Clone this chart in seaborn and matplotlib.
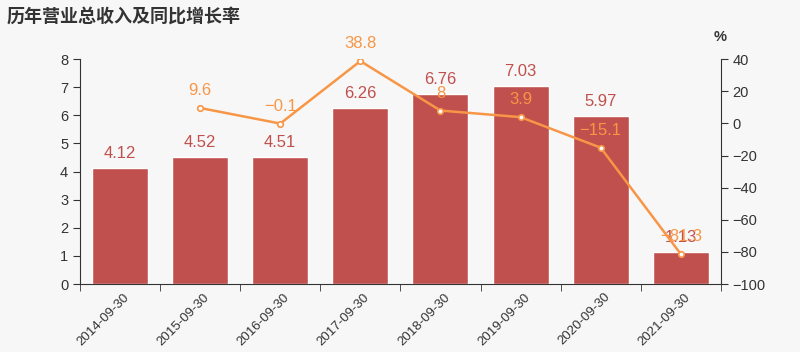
import numpy as np
import pandas as pd
import matplotlib
matplotlib.use("Agg")
import matplotlib.pyplot as plt
import seaborn as sns

dates = ['2014-09-30', '2015-09-30', '2016-09-30', '2017-09-30',
         '2018-09-30', '2019-09-30', '2020-09-30', '2021-09-30']
revenue = [4.12, 4.52, 4.51, 6.26, 6.76, 7.03, 5.97, 1.13]
growth = [9.6, -0.1, 38.8, 8, 3.9, -15.1, -81.3]
growth_labels = ['9.6', '\u22120.1', '38.8', '8', '3.9', '\u221215.1', '\u221281.3']

bar_color = '#c0504d'
line_color = '#f79646'
bg = '#f7f7f7'
txt = '#333333'

sns.set_style("ticks")
plt.rcParams['font.family'] = ['Liberation Sans', 'Noto Sans CJK SC', 'DejaVu Sans']
plt.rcParams['axes.unicode_minus'] = True

fig = plt.figure(figsize=(8, 3.52), dpi=100, facecolor=bg)
ax = fig.add_axes([0.1, 0.193, 0.801, 0.639])
ax.set_facecolor(bg)

df = pd.DataFrame({'date': dates, 'revenue': revenue})
sns.barplot(x='date', y='revenue', data=df, color=bar_color, width=0.7,
            saturation=1, ax=ax)
for p, v in zip(ax.patches, revenue):
    ax.annotate(f'{v:.2f}', (p.get_x() + p.get_width() / 2, p.get_height()),
                xytext=(0, 5), textcoords='offset points', ha='center', va='bottom',
                color=bar_color, fontsize=12)

ax.set_ylim(0, 8)
ax.set_xlim(-0.5, len(dates) - 0.5)
ax.set_yticks(range(0, 9))
ax.set_xlabel('')
ax.set_ylabel('')
ax.set_xticks(np.arange(len(dates)) + 0.04)
ax.set_xticklabels(dates, rotation=45, ha='right', rotation_mode='anchor')
ax.tick_params(axis='x', length=0, pad=5, colors=txt, labelsize=9.5)
ax.set_xticks(np.arange(len(dates) + 1) - 0.5, minor=True)
ax.tick_params(axis='x', which='minor', length=5, color=txt)
ax.tick_params(axis='y', length=5, colors=txt, labelsize=10.5)
for s in ['top', 'right']:
    ax.spines[s].set_visible(False)
for s in ['left', 'bottom']:
    ax.spines[s].set_color(txt)

ax2 = ax.twinx()
gdf = pd.DataFrame({'pos': np.arange(1, len(dates)), 'growth': growth})
sns.lineplot(x='pos', y='growth', data=gdf, ax=ax2, color=line_color, linewidth=1.8,
             marker='o', markersize=4, markerfacecolor='white',
             markeredgecolor=line_color, markeredgewidth=1.2)
for x, y, lab in zip(gdf['pos'], growth, growth_labels):
    ax2.annotate(lab, (x, y), xytext=(0, 7), textcoords='offset points',
                 ha='center', va='bottom', color=line_color, fontsize=12)
ax2.set_ylim(-100, 40)
ax2.set_yticks(range(-100, 41, 20))
ax2.set_ylabel('')
ax2.set_xlabel('')
ax2.tick_params(axis='y', length=5, colors=txt, labelsize=10.5)
for s in ['top', 'left', 'bottom']:
    ax2.spines[s].set_visible(False)
ax2.spines['right'].set_color(txt)
ax2.set_xlim(-0.5, len(dates) - 0.5)

fig.text(0.9, 0.895, '%', fontsize=10.5, color=txt, ha='center', va='center', fontweight='bold')
fig.text(0.008, 0.952, '历年营业总收入及同比增长率', fontsize=13, fontweight='bold',
         color=txt, ha='left', va='center')

fig.savefig('out.png', dpi=100, facecolor=bg)
